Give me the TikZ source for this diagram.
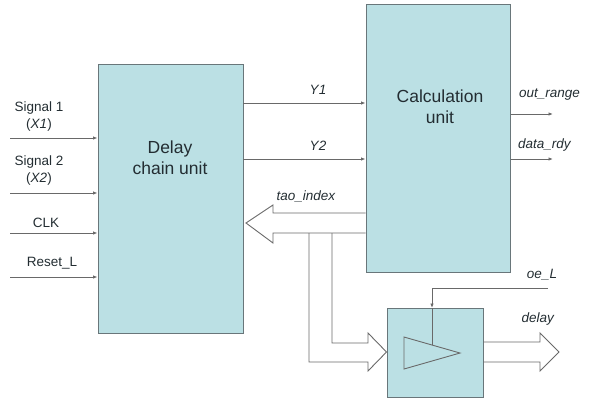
\documentclass[tikz,border=0pt]{standalone}
\usepackage{fontspec}
\setmainfont{Liberation Sans}
\usepackage{xcolor}
\usetikzlibrary{calc,arrows.meta,positioning}
\definecolor{UnitFill}{RGB}{187, 224, 228}
\definecolor{UnitLine}{RGB}{105, 118, 122}
\definecolor{WireGray}{RGB}{105, 105, 105}
\definecolor{TextDark}{RGB}{35, 45, 50}

\begin{document}
\begin{tikzpicture}[x=1pt, y=-1pt, >={Latex[length=4.5pt,width=3.5pt]},
  font=\fontsize{13.5}{17}\selectfont,
  unit/.style={draw=UnitLine, line width=1pt, fill=UnitFill, inner sep=0pt},
  boxtxt/.style={align=center, text=TextDark, font=\fontsize{17.5}{21}\selectfont},
  lab/.style={align=center, inner sep=0pt, text=TextDark},
  sig/.style={->, draw=WireGray, line width=0.9pt},
  bus/.style={draw=WireGray, line width=0.9pt, line join=miter}]
  \useasboundingbox (0,0) rectangle (592,402);

  % --- units ---
  \node[unit, minimum width=145pt, minimum height=269pt] (dcu)  at (170.5,198.5) {};
  \node[unit, minimum width=144pt, minimum height=268pt] (calc) at (438,138) {};
  \node[unit, minimum width=96pt,  minimum height=89pt]  (buf)  at (435,352.5) {};
  \node[boxtxt] (dcutxt)  at (170,158) {Delay\\chain unit};
  \node[boxtxt] (calctxt) at (440,107) {Calculation\\unit};

  % --- inputs of the delay chain ---
  \coordinate (in1) at (10,138);
  \coordinate (in2) at (10,193);
  \coordinate (in3) at (10,233);
  \coordinate (in4) at (10,277);
  \draw[sig] (in1) -- (dcu.west |- in1);
  \draw[sig] (in2) -- (dcu.west |- in2);
  \draw[sig] (in3) -- (dcu.west |- in3);
  \draw[sig] (in4) -- (dcu.west |- in4);
  \node[lab] (s1) at (39,117) {Signal 1\\(\textit{X1})};
  \node[lab] (s2) at (39,171) {Signal 2\\(\textit{X2})};
  \node[lab] (clk) at (46,223) {CLK};
  \node[lab] (rst) at (52,263) {Reset\_L};

  % --- Y1, Y2 ---
  \coordinate (y1) at (243,103);
  \coordinate (y2) at (243,159);
  \draw[sig] (y1) -- (calc.west |- y1);
  \draw[sig] (y2) -- (calc.west |- y2);
  \node[lab] at (318,90)  {\textit{Y1}};
  \node[lab] at (318,146) {\textit{Y2}};

  % --- outputs of the calculation unit ---
  \coordinate (orng) at (553,114);
  \coordinate (drdy) at (553,159);
  \draw[sig] (calc.east |- orng) -- (orng);
  \draw[sig] (calc.east |- drdy) -- (drdy);
  \node[lab, anchor=west] at (519,95)  {\textit{out\_range}};
  \node[lab, anchor=west] at (518,145) {\textit{data\_rdy}};

  % --- tao_index bus back to the delay chain ---
  \draw[bus] (calc.west |- 0,213) -- (273,213) -- (273,205) -- (246,223)
             -- (273,243) -- (273,233) -- (calc.west |- 0,233);
  \node[lab] at (306,196) {\textit{tao\_index}};

  % --- branch into the output buffer ---
  \draw[bus] (309,233) -- (309,362) -- (368,362) -- (368,371) -- (buf.west |- 0,352)
             -- (368,333) -- (368,343) -- (332,343) -- (332,233);
  \draw[bus] (404,337) -- (460,353) -- (404,369) -- cycle;

  % --- enable ---
  \coordinate (oe) at (548,288);
  \draw[sig] (oe) -- (432,288) -- (432,308);
  \draw[bus] (432,308) -- (432,345);
  \node[lab] at (542,275) {\textit{oe\_L}};

  % --- delay output ---
  \draw[bus] (buf.east |- 0,342) -- (540,342) -- (540,333) -- (559,352)
             -- (540,371) -- (540,362) -- (buf.east |- 0,362);
  \node[lab] at (538,319) {\textit{delay}};
\end{tikzpicture}
\end{document}
